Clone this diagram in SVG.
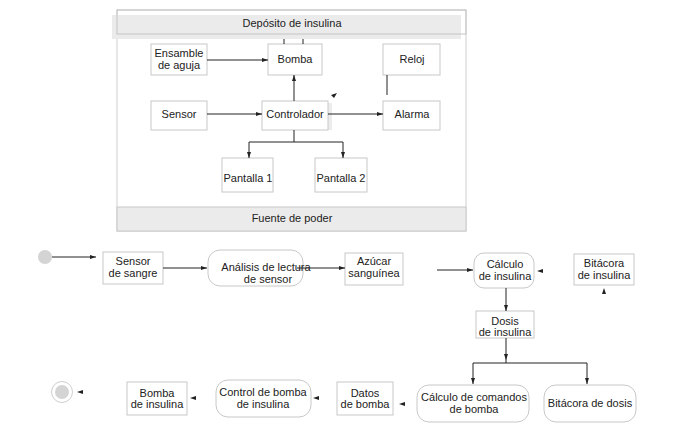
<svg xmlns="http://www.w3.org/2000/svg" width="675" height="436" viewBox="0 0 675 436">
<defs>
<style>
.box{fill:#fff;stroke:#c8c8c8;stroke-width:1}
.band{fill:#ebebeb;stroke:none}
.bandline{fill:none;stroke:#c4c4c4;stroke-width:1}
.t{font-family:"Liberation Sans",Arial,sans-serif;font-size:11px;fill:#222;text-anchor:middle}
.c{fill:none;stroke:#222;stroke-width:1}
.ah{fill:#222;stroke:none}
</style>
<marker id="a" viewBox="0 0 6 4" refX="6" refY="2" markerWidth="6" markerHeight="4" markerUnits="userSpaceOnUse" orient="auto">
<path d="M0,0 L6,2 L0,4 Z" fill="#222"/>
</marker>
</defs>
<rect width="675" height="436" fill="#fff"/>

<g id="system">
<rect x="117" y="10" width="349" height="221" fill="#fff" stroke="#cfcfcf"/>
<rect class="band" x="112" y="15" width="349" height="24"/>
<rect class="bandline" x="117" y="10" width="349" height="24"/>
<text class="t" x="292" y="27">Depósito de insulina</text>
<rect x="117" y="207" width="349" height="24" fill="#ebebeb" stroke="#c8c8c8"/>
<text class="t" x="292" y="222">Fuente de poder</text>
</g>

<g id="ensamble"><rect class="box" x="151" y="44" width="56" height="31"/><text class="t" x="179" y="57">Ensamble</text><text class="t" x="179" y="69">de aguja</text></g>
<g id="bomba"><rect class="box" x="268" y="44" width="54" height="31"/><text class="t" x="295" y="63">Bomba</text></g>
<g id="reloj"><rect class="box" x="383" y="44" width="57" height="31"/><text class="t" x="412" y="63">Reloj</text></g>
<g id="sensor"><rect class="box" x="151" y="101" width="56" height="29"/><text class="t" x="179" y="118">Sensor</text></g>
<g id="controlador"><rect x="328" y="103" width="4" height="27" fill="#ececec"/><rect class="box" x="262" y="101" width="66" height="29"/><text class="t" x="295" y="118">Controlador</text></g>
<g id="alarma"><rect class="box" x="383" y="101" width="57" height="29"/><text class="t" x="412" y="118">Alarma</text></g>
<g id="pantalla1"><rect class="box" x="222" y="158" width="51" height="34"/><text class="t" x="248" y="182">Pantalla 1</text></g>
<g id="pantalla2"><rect class="box" x="315" y="158" width="52" height="34"/><text class="t" x="341" y="182">Pantalla 2</text></g>

<g id="start"><circle cx="45" cy="257" r="7" fill="#d4d4d4"/></g>
<g id="sensorSangre"><rect class="box" x="103" y="252" width="60" height="32"/><text class="t" x="133" y="265">Sensor</text><text class="t" x="133" y="277">de sangre</text></g>
<g id="analisis"><rect class="box" x="208" y="250" width="95" height="36" rx="12"/><text class="t" x="266" y="271">Análisis de lectura</text><text class="t" x="268" y="283">de sensor</text></g>
<g id="azucar"><rect class="box" x="345" y="253" width="58" height="32"/><text class="t" x="374" y="265">Azúcar</text><text class="t" x="374" y="277">sanguínea</text></g>
<g id="calculo"><rect class="box" x="474" y="253" width="60" height="35" rx="10"/><text class="t" x="505" y="268">Cálculo</text><text class="t" x="505" y="280">de insulina</text></g>
<g id="bitacoraInsulina"><rect class="box" x="574" y="254" width="60" height="31"/><text class="t" x="604" y="267">Bitácora</text><text class="t" x="604" y="279">de insulina</text></g>
<g id="dosis"><rect class="box" x="476" y="311" width="58" height="27"/><text class="t" x="505" y="325">Dosis</text><text class="t" x="505" y="336">de insulina</text></g>
<g id="comandos"><rect class="box" x="417" y="385" width="112" height="37" rx="12"/><text class="t" x="474" y="401">Cálculo de comandos</text><text class="t" x="474" y="413">de bomba</text></g>
<g id="bitacoraDosis"><rect class="box" x="544" y="385" width="92" height="37" rx="12"/><text class="t" x="590" y="407">Bitácora de dosis</text></g>
<g id="datos"><rect class="box" x="337" y="382" width="56" height="33"/><text class="t" x="365" y="397">Datos</text><text class="t" x="365" y="408">de bomba</text></g>
<g id="control"><rect class="box" x="216" y="380" width="95" height="37" rx="12"/><text class="t" x="263" y="396">Control de bomba</text><text class="t" x="263" y="408">de insulina</text></g>
<g id="bombaInsulina"><rect class="box" x="127" y="382" width="60" height="33"/><text class="t" x="157" y="397">Bomba</text><text class="t" x="157" y="408">de insulina</text></g>
<g id="end"><circle cx="62" cy="392" r="10.5" fill="#fff" stroke="#cfcfcf"/><circle cx="62" cy="392" r="7" fill="#d4d4d4"/></g>

<g id="connectors">
<line class="c" x1="284" y1="39" x2="284" y2="44"/>
<line class="c" x1="303" y1="39" x2="303" y2="44"/>
<line class="c" x1="207" y1="60" x2="268" y2="60" marker-end="url(#a)"/>
<line class="c" x1="207" y1="114" x2="262" y2="114" marker-end="url(#a)"/>
<line class="c" x1="294" y1="101" x2="294" y2="75" marker-end="url(#a)"/>
<line class="c" x1="328" y1="114" x2="383" y2="114" marker-end="url(#a)"/>
<line class="c" x1="387" y1="75" x2="387" y2="95"/>
<path class="c" d="M294,130 V142 H249 V158" marker-end="url(#a)"/>
<path class="c" d="M294,142 H343 V158" marker-end="url(#a)"/>
<polygon class="ah" points="337,93 331,95 334,98"/>

<line class="c" x1="52" y1="257" x2="96" y2="257" marker-end="url(#a)"/>
<line class="c" x1="163" y1="268" x2="207" y2="268" marker-end="url(#a)"/>
<line class="c" x1="297" y1="268" x2="345" y2="268" marker-end="url(#a)"/>
<line class="c" x1="437" y1="270" x2="473" y2="270" marker-end="url(#a)"/>
<polygon class="ah" points="537,271 543,269 543,273"/>
<polygon class="ah" points="604,288 602,294 606,294"/>
<line class="c" x1="506" y1="288" x2="506" y2="311" marker-end="url(#a)"/>
<line class="c" x1="506" y1="338" x2="506" y2="360" marker-end="url(#a)"/>
<path class="c" d="M506,360 V363 H473 V384" marker-end="url(#a)"/>
<path class="c" d="M506,363 H587 V384" marker-end="url(#a)"/>
<polygon class="ah" points="399,404 405,402 405,406"/>
<polygon class="ah" points="313,398 319,396 319,400"/>
<polygon class="ah" points="190,398 196,396 196,400"/>
<polygon class="ah" points="77,392 83,390 83,394"/>
</g>
</svg>
